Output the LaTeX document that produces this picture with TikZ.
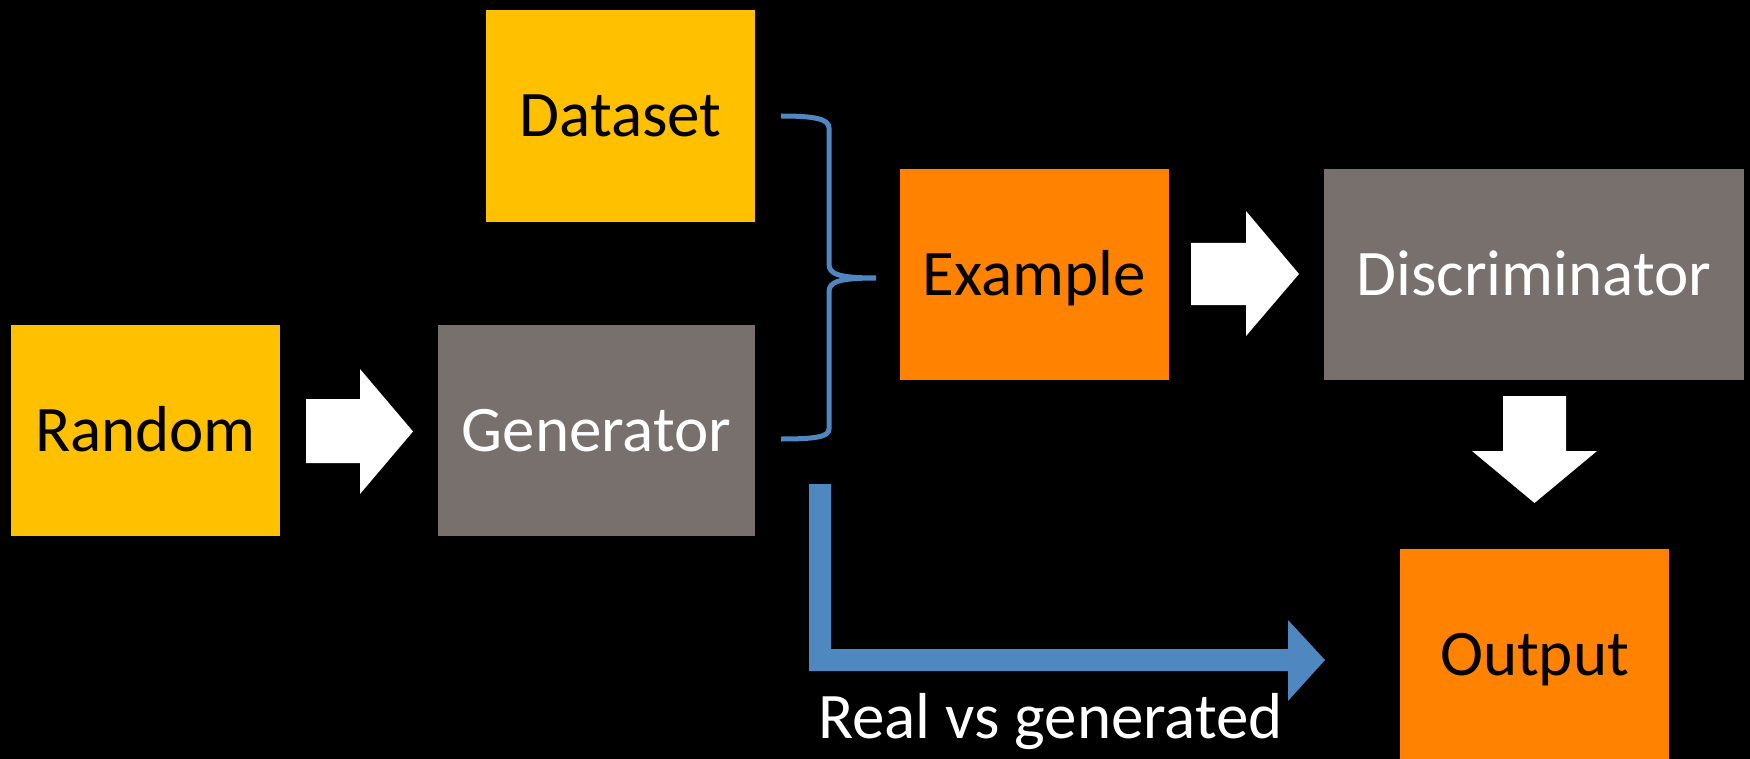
\documentclass[tikz,border=0pt]{standalone}
\usepackage{fontspec}
\setmainfont{Carlito}
\definecolor{cyellow}{HTML}{FFC000}
\definecolor{corange}{HTML}{FF8300}
\definecolor{cgray}{HTML}{78706C}
\definecolor{cblue}{HTML}{4F88C0}
\tikzset{
  box/.style={rectangle, inner sep=0pt, outer sep=0pt, minimum height=211pt,
    text height=42pt, text depth=0pt,
    font=\fontsize{65}{70}\selectfont},
  ybox/.style={box, fill=cyellow, text=black},
  obox/.style={box, fill=corange, text=black},
  gbox/.style={box, fill=cgray, text=white},
  blockarrow/.style={fill=white},
  bluebrace/.style={draw=cblue, line width=5pt},
}
\begin{document}
\begin{tikzpicture}[x=1pt,y=-1pt]
\fill[black] (0,0) rectangle (1750,759);
\useasboundingbox (0,0) rectangle (1750,759);

\node[ybox, minimum width=269pt, minimum height=212pt] (dataset) at (620.5,116) {Dataset};
\node[ybox, minimum width=269pt] (random) at (145.5,430.5) {Random};
\node[gbox, minimum width=317pt] (generator) at (596.5,430.5) {Generator};
\node[obox, minimum width=269pt] (example) at (1034.5,274.5) {Example};
\node[gbox, minimum width=420pt] (discriminator) at (1534,274.5) {Discriminator};
\node[obox, minimum width=269pt] (output) at (1534.5,654) {Output};

% white block arrows
\fill[blockarrow] (306,399) -- (360,399) -- (360,369) -- (413,431.5) -- (360,494) -- (360,463) -- (306,463) -- cycle;
\fill[blockarrow] (1191,243) -- (1246,243) -- (1246,211) -- (1299,274) -- (1246,336) -- (1246,305) -- (1191,305) -- cycle;
\fill[blockarrow] (1503,396) -- (1566,396) -- (1566,451) -- (1597,451) -- (1534.5,503) -- (1472,451) -- (1503,451) -- cycle;

% brace
\draw[bluebrace] (781,116) .. controls (815,116) and (829,119) .. (829,128) -- (829,264)
  .. controls (829,274) and (838,278) .. (876,278)
  .. controls (838,278) and (829,282) .. (829,292) -- (829,429)
  .. controls (829,437) and (815,439) .. (781,439);

% blue L arrow
\fill[cblue] (809,484) -- (831,484) -- (831,649) -- (1288,649) -- (1288,620) -- (1325,660) -- (1288,701) -- (1288,671) -- (809,671) -- cycle;

\node[anchor=base, text=white, inner sep=0pt, font=\fontsize{65}{70}\selectfont] (label) at (1050.5,738) {Real vs generated};
\end{tikzpicture}
\end{document}
